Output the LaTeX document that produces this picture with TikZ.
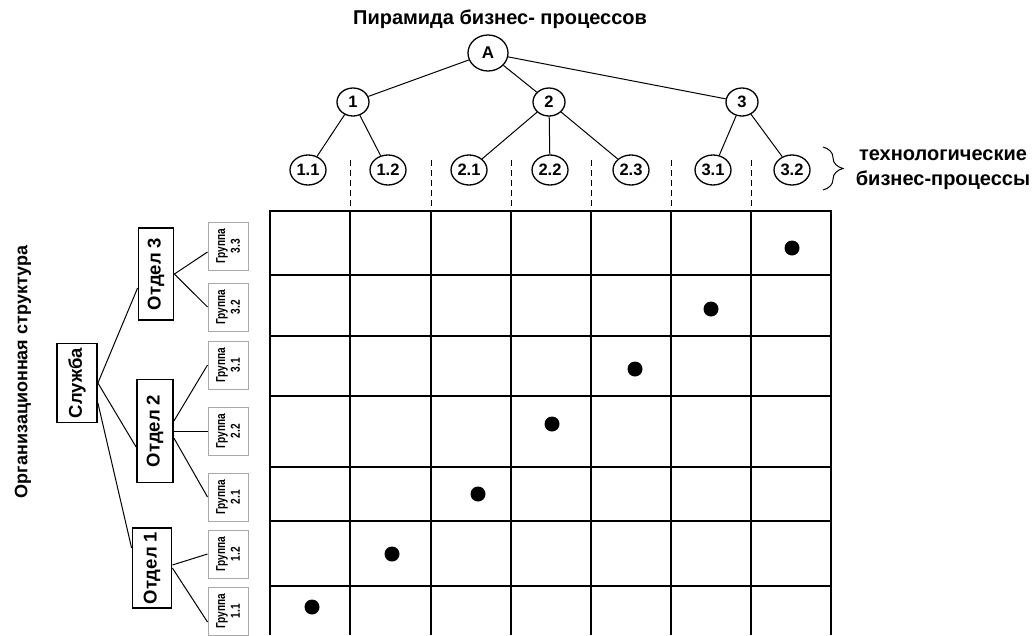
\documentclass[tikz,border=0pt]{standalone}
\usepackage{fontspec}
\setmainfont{Liberation Sans}
\newfontfamily\narrowfont{Liberation Sans}[FakeStretch=0.78]
\usepackage{tikz}
\usetikzlibrary{shapes.geometric, decorations.pathreplacing}
\definecolor{gg}{RGB}{170, 170, 170}

\begin{document}
\begin{tikzpicture}[x=1pt, y=-1pt,
  every node/.style={inner sep=0pt},
  proc/.style={ellipse, minimum width=36pt, minimum height=30pt, line width=1.3pt, draw=black, font=\bfseries\fontsize{16.5}{16.5}\selectfont},
  dept/.style={minimum width=36pt, line width=1.8pt, draw=black, font=\bfseries\fontsize{18.5}{18.5}\selectfont},
  grp/.style={minimum width=40pt, minimum height=48pt, line width=1pt, draw=gg, font=\narrowfont\bfseries\fontsize{13}{11}\selectfont},
  link/.style={line width=1pt, color=black},
  cell/.style={line width=1.3pt, color=black}]
\useasboundingbox (0,0) rectangle (1036,635);
% top: pyramid
\node (title) [font=\bfseries\fontsize{20}{20}\selectfont] at (500, 19) {Пирамида бизнес- процессов};
\node (A) [proc, minimum width=40pt, minimum height=36pt, font=\bfseries\fontsize{17}{17}\selectfont] at (488, 53) {A};
\node (1) [proc, minimum width=32pt, minimum height=28pt] at (353, 102) {1};
\node (2) [proc, minimum width=32pt, minimum height=28pt] at (549, 102) {2};
\node (3) [proc, minimum width=32pt, minimum height=28pt] at (742, 102) {3};
\node (11) [proc] at (308, 170) {1.1};
\node (12) [proc] at (388, 170) {1.2};
\node (21) [proc] at (469, 170) {2.1};
\node (22) [proc] at (550, 170) {2.2};
\node (23) [proc] at (631, 170) {2.3};
\node (31) [proc] at (713, 170) {3.1};
\node (32) [proc] at (792, 170) {3.2};
\draw [link] (A) to (1);
\draw [link] (A) to (2);
\draw [link] (A) to (3);
\draw [link] (1) to (11);
\draw [link] (1) to (12);
\draw [link] (2) to (21);
\draw [link] (2) to (22);
\draw [link] (2) to (23);
\draw [link] (3) to (31);
\draw [link] (3) to (32);
\coordinate (b1) at (823, 147);
\coordinate (b2) at (823, 190);
\draw [link, decorate, decoration={brace, amplitude=20pt}] (b1) to (b2);
\node (tech) [align=center, font=\bfseries\fontsize{20}{25}\selectfont] at (943, 170) {технологические\\бизнес-процессы};
% left: organisation
\node (org) [rotate=90, font=\bfseries\fontsize{18}{18}\selectfont] at (23, 372) {Организационная структура};
\node (s) [dept, minimum width=40pt, minimum height=79pt] at (77, 383) {\rotatebox{90}{Служба}};
\node (o3) [dept, minimum width=35pt, minimum height=92pt] at (156, 274) {\rotatebox{90}{Отдел 3}};
\node (o2) [dept, minimum height=103pt] at (155, 431) {\rotatebox{90}{Отдел 2}};
\node (o1) [dept, minimum width=39pt, minimum height=80pt] at (152, 568) {\rotatebox{90}{Отдел 1}};
\node (g33) [grp] at (228, 246) {\rotatebox{90}{\shortstack{Группа\\3.3}}};
\node (g32) [grp] at (228, 307) {\rotatebox{90}{\shortstack{Группа\\3.2}}};
\node (g31) [grp] at (228, 365) {\rotatebox{90}{\shortstack{Группа\\3.1}}};
\node (g22) [grp] at (228, 431) {\rotatebox{90}{\shortstack{Группа\\2.2}}};
\node (g21) [grp] at (228, 497) {\rotatebox{90}{\shortstack{Группа\\2.1}}};
\node (g12) [grp] at (228, 554) {\rotatebox{90}{\shortstack{Группа\\1.2}}};
\node (g11) [grp] at (228, 611) {\rotatebox{90}{\shortstack{Группа\\1.1}}};
\draw [link] (s.east) to ([yshift=-14pt]o3.west);
\draw [link] (s.east) to ([yshift=-16pt]o2.west);
\draw [link] ([yshift=-20pt]s.east) to ([yshift=20pt]o1.west);
\draw [link] (o3.east) to ([yshift=-6pt]g33.west);
\draw [link] (o3.east) to (g32.west);
\draw [link] ([yshift=10pt]o2.east) to (g31.west);
\draw [link] (o2.east) to (g22.west);
\draw [link] ([yshift=-7pt]o2.east) to (g21.west);
\draw [link] ([yshift=3pt]o1.east) to (g12.west);
\draw [link] (o1.east) to ([yshift=-11pt]g11.west);
% matrix
\draw [cell] (270, 635) -- (270, 211) -- (831, 211) -- (831, 635);
\draw [cell] (270, 275) -- (831, 275) (270, 336) -- (831, 336) (270, 396) -- (831, 396)
  (270, 467) -- (831, 467) (270, 521) -- (831, 521) (270, 586) -- (831, 586);
\draw [cell] (350, 211) -- (350, 635) (431, 211) -- (431, 635) (511, 211) -- (511, 635)
  (591, 211) -- (591, 635) (671, 211) -- (671, 635) (751, 211) -- (751, 635);
\draw [link, dash pattern=on 6pt off 4pt] (350, 160) -- (350, 211) (431, 160) -- (431, 211)
  (511, 160) -- (511, 211) (591, 160) -- (591, 211) (671, 160) -- (671, 211) (751, 160) -- (751, 211);
\fill (792, 248) circle (7.5pt);
\fill (711, 309) circle (7.5pt);
\fill (635, 369) circle (7.5pt);
\fill (552, 424) circle (7.5pt);
\fill (478, 494) circle (7.5pt);
\fill (392, 554) circle (7.5pt);
\fill (312, 607) circle (7.5pt);
\end{tikzpicture}
\end{document}
